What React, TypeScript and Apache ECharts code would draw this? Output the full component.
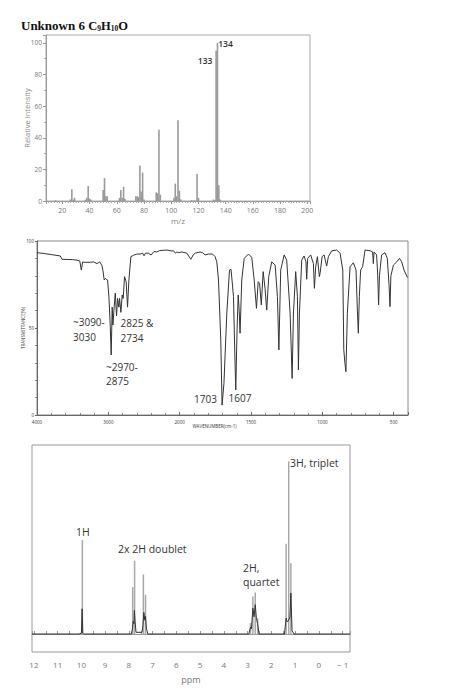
import React, { useEffect, useRef } from 'react';
import * as echarts from 'echarts';

// ---------- Mass spectrum ----------
const msMz = [15, 26, 27, 28, 29, 37, 38, 39, 40, 41, 50, 51, 52, 53, 62, 63, 64, 65, 66, 74, 75, 76, 77, 78, 79, 80, 89, 90, 91, 92, 102, 103, 104, 105, 106, 107, 115, 117, 119, 120, 131, 132, 133, 134, 135, 136];
const msIntensity = [0.6, 1, 7.5, 0.8, 2, 0.8, 2, 9.5, 1.5, 1, 7, 14.5, 3, 3, 2, 7, 2, 9, 1.5, 3, 3, 2.5, 22.5, 6, 18, 1, 5.5, 5, 45, 4, 2, 11, 3, 51, 6.5, 1, 0.6, 0.5, 17, 2, 1, 0.6, 95, 100, 10, 1];
const msLabelled = [133, 134];

// ---------- IR spectrum ----------
const irWavenumber = [4000, 3900, 3800, 3674, 3650, 3500, 3440, 3400, 3379, 3360, 3338, 3250, 3207, 3160, 3123, 3090, 3076, 3058, 3040, 3030, 3011, 2992, 2973, 2960, 2946, 2936, 2922, 2903, 2885, 2871, 2852, 2843, 2824, 2806, 2792, 2773, 2750, 2731, 2712, 2684, 2647, 2600, 2553, 2520, 2500, 2480, 2440, 2400, 2360, 2320, 2280, 2180, 2120, 2087, 2060, 2040, 2017, 1985, 1950, 1922, 1905, 1892, 1857, 1840, 1822, 1800, 1787, 1770, 1752, 1740, 1728, 1712, 1703, 1690, 1670, 1651, 1640, 1623, 1612, 1607, 1598, 1590, 1583, 1577, 1565, 1548, 1518, 1495, 1478, 1462, 1450, 1440, 1428, 1415, 1402, 1390, 1376, 1355, 1331, 1315, 1305, 1292, 1268, 1250, 1226, 1212, 1203, 1187, 1175, 1168, 1161, 1145, 1128, 1115, 1110, 1103, 1082, 1063, 1056, 1047, 1035, 1021, 1015, 1002, 988, 970, 958, 935, 900, 876, 857, 850, 842, 835, 825, 806, 783, 764, 755, 748, 741, 732, 718, 701, 666, 648, 643, 638, 620, 612, 606, 600, 585, 561, 545, 533, 526, 520, 502, 479, 460, 444, 428, 404];
const irTransmittance = [93.3, 92.8, 92.2, 91.4, 89.5, 89.3, 89, 88.5, 83.3, 88, 87.7, 87.8, 88, 87, 88, 86, 83, 77.6, 78.5, 78, 77.6, 68, 50.8, 34.5, 62, 51.7, 60, 70, 57, 67, 62, 67, 59, 69, 67, 79.5, 76.6, 62, 77.6, 91, 91.8, 92.5, 92.5, 93, 91.5, 93, 93, 92, 94, 93.7, 94.5, 94.8, 94.3, 94.4, 93, 93.7, 93.3, 93.7, 93, 89.5, 92, 93, 93.7, 93.3, 92, 92.5, 92.5, 92.5, 91, 88, 77.6, 43, 5.7, 18, 58, 83.3, 83.7, 68, 29.7, 14.4, 48.9, 69, 60, 47, 77.6, 90, 92.5, 90.6, 77.6, 61.3, 76.6, 75.7, 63.2, 82.4, 72.8, 60.3, 79.5, 88, 86.2, 68, 37.4, 83.3, 92, 89, 58.4, 21, 58, 82.4, 68, 25.9, 58, 89, 91.4, 88, 78, 90, 92, 87, 72.8, 85, 91, 79.5, 82, 91, 92, 85.6, 91, 94.3, 94.8, 93, 83.3, 37.4, 29.7, 24.9, 58.4, 85.2, 87.5, 83.3, 60.3, 47, 68, 83.3, 85.2, 94.8, 94.4, 93.7, 87, 93.7, 92, 80, 63.2, 80, 92, 93.3, 90, 75, 62.3, 80, 86.2, 88, 90, 88, 83.3, 79];
const irXTicks = [4000, 3000, 2000, 1500, 1000, 500];

// ---------- 1H NMR ----------
const nmrStickPpm = [9.96, 7.84, 7.76, 7.39, 7.3, 2.88, 2.78, 2.68, 2.58, 1.38, 1.27, 1.18];
const nmrStickHeight = [54.5, 27.2, 42.5, 34.5, 22.7, 6.4, 21.7, 24, 9.2, 52.2, 100, 41];
const nmrCurvePpm = [12.08, 10.1, 10.0, 9.97, 9.94, 9.9, 7.9, 7.85, 7.82, 7.79, 7.77, 7.74, 7.7, 7.45, 7.41, 7.37, 7.33, 7.3, 7.26, 7.2, 2.95, 2.88, 2.84, 2.78, 2.73, 2.68, 2.63, 2.58, 2.52, 1.45, 1.38, 1.33, 1.27, 1.22, 1.18, 1.13, 1.05, -1.31];
const nmrCurveInt = [0, 0, 0.5, 14.6, 0.5, 0, 0, 3, 7.3, 6, 13.7, 7.3, 1, 1, 5, 12.5, 8, 10.2, 3, 0, 0, 4, 3, 15, 10, 17, 9, 6, 0, 0, 9.2, 7, 8, 10, 23.7, 2, 0, 0];

const irU = (w: number) => (w >= 2000 ? 4000 - w : 2000 + 2 * (2000 - w));
const irW = (u: number) => (u <= 2000 ? 4000 - u : 2000 - (u - 2000) / 2);

export default function App() {
  const ref = useRef<HTMLDivElement>(null);
  useEffect(() => {
    if (!ref.current) return;
    const chart = echarts.init(ref.current, undefined, { renderer: 'svg' });
    const sans = 'Open Sans';
    const msData = msMz.map((m, i) => {
      const item: any = { value: [m, msIntensity[i]] };
      if (msLabelled.includes(m)) {
        item.label = {
          show: true,
          position: 'top',
          distance: 0,
          offset: m === 134 ? [8, 5] : [-11, 14],
          formatter: String(m),
          fontFamily: sans,
          fontSize: 8.5,
          fontWeight: 600,
          color: '#333',
        };
      }
      return item;
    });
    const irData = irWavenumber.map((w, i) => [irU(w), irTransmittance[i]]);
    const nmrSticks = nmrStickPpm.map((p, i) => [p, nmrStickHeight[i]]);
    const nmrCurve = nmrCurvePpm.map((p, i) => [p, nmrCurveInt[i]]);

    const annot = (text: string, x: number, y: number, size: number, lh: number) => ({
      type: 'text',
      x,
      y,
      style: {
        text,
        fontFamily: sans,
        fontSize: size,
        lineHeight: lh,
        fill: '#333',
        verticalAlign: 'top',
        align: 'left',
      },
    });

    chart.setOption({
      animation: false,
      backgroundColor: '#fff',
      title: {
        text: '{b|Unknown 6 }{n|C}{s|9}{n|H}{s|10}{n|O}',
        left: 21,
        top: 18,
        padding: 0,
        textStyle: {
          rich: {
            b: { fontFamily: 'Liberation Serif', fontWeight: 'bold', fontSize: 13, color: '#111', lineHeight: 15 },
            n: { fontFamily: 'Liberation Serif', fontSize: 12.5, color: '#111', lineHeight: 15 },
            s: { fontFamily: 'Liberation Serif', fontSize: 7.5, color: '#111', lineHeight: 15, padding: [6, 0, 0, 0] },
          },
        },
      },
      grid: [
        { left: 46, top: 35, width: 264, height: 166, show: true, borderColor: '#aaa', borderWidth: 1 },
        { left: 37, top: 241, width: 371, height: 174, show: true, borderColor: '#888', borderWidth: 1 },
        { left: 32, top: 445, width: 318, height: 207, show: true, borderColor: '#999', borderWidth: 1 },
      ],
      xAxis: [
        {
          gridIndex: 0, type: 'value', min: 8, max: 202, splitNumber: 10,
          name: 'm/z', nameLocation: 'middle', nameGap: 15, nameMoveOverlap: false,
          nameTextStyle: { fontFamily: sans, fontSize: 8, color: '#888' },
          axisLine: { lineStyle: { color: '#999' } },
          axisTick: { show: true, length: 3, lineStyle: { color: '#999' } },
          minorTick: { show: true, splitNumber: 10, length: 2, lineStyle: { color: '#aaa' } },
          splitLine: { show: false },
          axisLabel: { fontFamily: sans, fontSize: 7, color: '#777', margin: 6, showMinLabel: false, showMaxLabel: false },
        },
        {
          gridIndex: 1, type: 'value', min: 0, max: 5200, interval: 1000,
          name: 'WAVENUMBER(cm-1)', nameLocation: 'middle', nameGap: 8, nameMoveOverlap: false,
          nameTextStyle: { fontFamily: sans, fontSize: 4.5, color: '#333', padding: [0, 16, 0, 0] },
          axisLine: { lineStyle: { color: '#666' } },
          axisTick: { show: true, inside: true, length: 3, lineStyle: { color: '#666' } },
          minorTick: { show: true, splitNumber: 5, length: 2, lineStyle: { color: '#888' } },
          splitLine: { show: false },
          axisLabel: {
            fontFamily: sans, fontSize: 4.5, color: '#333', margin: 4, showMaxLabel: false,
            formatter: (u: number) => {
              const w = irW(u);
              return irXTicks.includes(w) ? String(w) : '';
            },
          },
        },
        {
          gridIndex: 2, type: 'value', inverse: true, min: -1.31, max: 12.08, splitNumber: 13,
          name: 'ppm', nameLocation: 'middle', nameGap: 23, nameMoveOverlap: false,
          nameTextStyle: { fontFamily: sans, fontSize: 9, color: '#777' },
          axisLine: { lineStyle: { color: '#999' } },
          axisTick: { show: true, inside: true, length: 3, lineStyle: { color: '#999' } },
          minorTick: { show: true, splitNumber: 2, length: 3, lineStyle: { color: '#999' } },
          splitLine: { show: false },
          axisLabel: {
            fontFamily: sans, fontSize: 8, color: '#777', margin: 8, showMinLabel: false, showMaxLabel: false,
            formatter: (v: number) => (v < 0 ? '\u2212 ' + Math.abs(v) : String(v)),
          },
        },
      ],
      yAxis: [
        {
          gridIndex: 0, type: 'value', min: 0, max: 105, splitNumber: 5,
          name: 'Relative Intensity', nameLocation: 'middle', nameGap: 15, nameRotate: 90, nameMoveOverlap: false,
          nameTextStyle: { fontFamily: sans, fontSize: 7.5, color: '#888' },
          axisLine: { show: true, lineStyle: { color: '#999' } },
          axisTick: { show: true, length: 3, lineStyle: { color: '#999' } },
          minorTick: { show: true, splitNumber: 2, length: 2, lineStyle: { color: '#aaa' } },
          splitLine: { show: false },
          axisLabel: { fontFamily: sans, fontSize: 6.5, color: '#777', margin: 4, showMaxLabel: false },
        },
        {
          gridIndex: 1, type: 'value', min: 0, max: 100, interval: 50,
          name: 'TRANSMITTANCE(%)', nameLocation: 'middle', nameGap: 12, nameRotate: 90, nameMoveOverlap: false,
          nameTextStyle: { fontFamily: sans, fontSize: 4.5, color: '#333' },
          axisLine: { show: true, lineStyle: { color: '#666' } },
          axisTick: { show: true, length: 2, lineStyle: { color: '#666' } },
          minorTick: { show: true, splitNumber: 5, length: 2, lineStyle: { color: '#888' } },
          splitLine: { show: false },
          axisLabel: { fontFamily: sans, fontSize: 4.5, color: '#333', margin: 3 },
        },
        {
          gridIndex: 2, type: 'value', min: -10.4, max: 109.4, show: false,
          splitLine: { show: false },
        },
      ],
      series: [
        {
          type: 'bar', xAxisIndex: 0, yAxisIndex: 0, data: msData, barWidth: 1.6,
          itemStyle: { color: '#9a9a9a' }, silent: true,
        },
        {
          type: 'line', xAxisIndex: 1, yAxisIndex: 1, data: irData, showSymbol: false,
          lineStyle: { color: '#333', width: 1 }, silent: true,
        },
        {
          type: 'bar', xAxisIndex: 2, yAxisIndex: 2, data: nmrSticks, barWidth: 1.5,
          itemStyle: { color: '#a8a8a8' }, silent: true,
        },
        {
          type: 'line', xAxisIndex: 2, yAxisIndex: 2, data: nmrCurve, showSymbol: false,
          lineStyle: { color: '#333', width: 1 }, silent: true, z: 3,
        },
      ],
      graphic: [
        annot('~3090-\n3030', 73, 315, 10, 14.4),
        annot('2825 &\n2734', 120.5, 316, 10, 14.4),
        annot('~2970-\n2875', 106, 359.5, 10, 14.4),
        annot('1703', 194, 392, 10, 14),
        annot('1607', 228.5, 390.5, 10, 14),
        annot('1H', 76, 525, 10.5, 14),
        annot('2x 2H doublet', 118, 542, 10.5, 14),
        annot('2H,\nquartet', 243, 560.5, 10.5, 14.6),
        annot('3H, triplet', 290, 456, 10.5, 14),
      ],
    });
    return () => chart.dispose();
  }, []);
  return (
    <div
      ref={ref}
      style={{ position: 'absolute', left: 0, top: 0, width: 469, height: 700, background: '#fff' }}
    />
  );
}
